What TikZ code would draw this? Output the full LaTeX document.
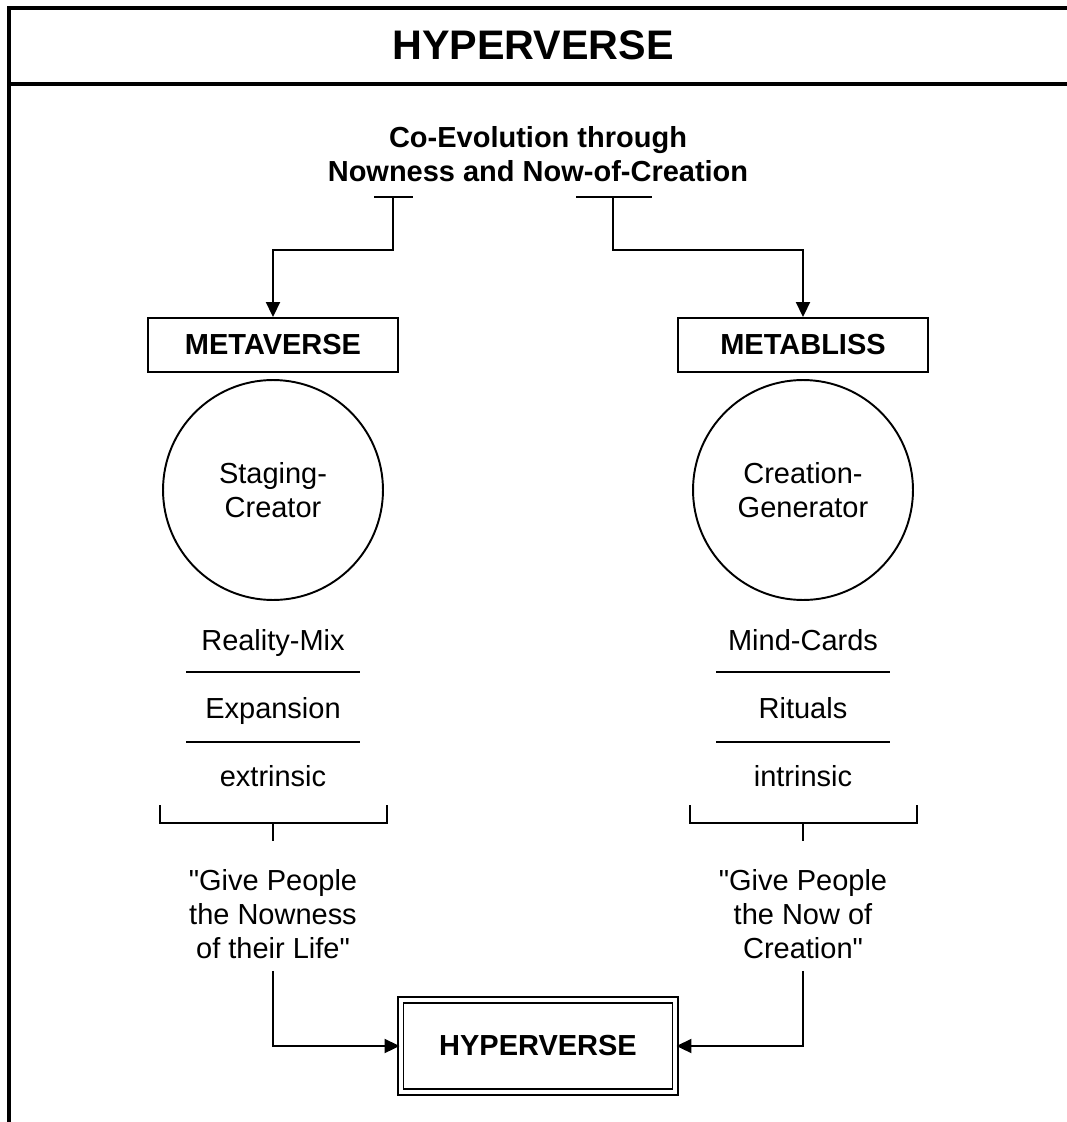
\documentclass[tikz,border=0pt]{standalone}
\usepackage{fontspec}
\setmainfont{Liberation Sans}
\usetikzlibrary{arrows.meta,positioning,calc}

\begin{document}
\begin{tikzpicture}[x=0.02cm, y=-0.02cm,
        thinline/.style={line width=1.1pt},
        frameline/.style={line width=2.4pt},
        txt/.style={font=\fontsize{16.5}{19.3}\selectfont, align=center, inner sep=0pt},
        btxt/.style={txt, font=\fontsize{16.5}{19.3}\selectfont\bfseries},
        titlebox/.style={draw, thinline, minimum width=5cm, minimum height=1.08cm, btxt},
        rolecircle/.style={draw, circle, thinline, minimum size=4.4cm, txt},
        arr/.style={thinline, -{Triangle[length=0.3cm, width=0.28cm]}}]
    \useasboundingbox (0,0) rectangle (1066,1122);

    % Frame and header
    \draw[frameline] (1070,8) -- (9,8) -- (9,1126);
    \draw[frameline] (9,84) -- (1070,84);
    \node[font=\fontsize{23.5}{28}\selectfont\bfseries] (head) at (533,45) {HYPERVERSE};

    % Top statement
    \node[btxt] (title) at (538,154) {Co-Evolution through\\Nowness and Now-of-Creation};
    \coordinate (lstub) at (393,197);
    \coordinate (rstub) at (613,197);
    \draw[thinline] (lstub) ++(-19,0) -- ++(39,0);
    \draw[thinline] (rstub) ++(-37,0) -- ++(76,0);

    % Two columns
    \node[titlebox] (metaverse) at (273,345) {METAVERSE};
    \node[titlebox] (metabliss) at (803,345) {METABLISS};
    \draw[arr] (lstub) -- ++(0,53) -| (metaverse.north);
    \draw[arr] (rstub) -- ++(0,53) -| (metabliss.north);

    \node[rolecircle] (staging) at (273,490) {Staging-\\Creator};
    \node[rolecircle] (creation) at (803,490) {Creation-\\Generator};

    \foreach \cx/\nm/\ta/\tb/\tc in {273/l/Reality-Mix/Expansion/extrinsic,
                                     803/r/Mind-Cards/Rituals/intrinsic} {
        \node[txt, anchor=base] (\nm a) at (\cx,650) {\ta};
        \node[txt, anchor=base] (\nm b) at (\cx,718) {\tb};
        \node[txt, anchor=base] (\nm c) at (\cx,786) {\tc};
        \draw[thinline] (\cx-87,672) -- (\cx+87,672);
        \draw[thinline] (\cx-87,742) -- (\cx+87,742);
        % bracket
        \draw[thinline] (\cx-113,805) |- (\cx+114,823) -- (\cx+114,805);
        \draw[thinline] (\cx,823) -- (\cx,841);
    }

    % Quotes
    \node[txt] (lquote) at (273,914) {\textquotedbl Give People\\the Nowness\\of their Life\textquotedbl};
    \node[txt] (rquote) at (803,914) {\textquotedbl Give People\\the Now of\\Creation\textquotedbl};

    % Result
    \node[draw, double, double distance=0.08cm, line width=1.1pt, minimum width=5.5cm,
          minimum height=1.84cm, btxt] (hyper) at (538,1046) {HYPERVERSE};
    \draw[arr] ($(lquote.south)+(0,12)$) |- (hyper.west);
    \draw[arr] ($(rquote.south)+(0,12)$) |- (hyper.east);
\end{tikzpicture}
\end{document}
